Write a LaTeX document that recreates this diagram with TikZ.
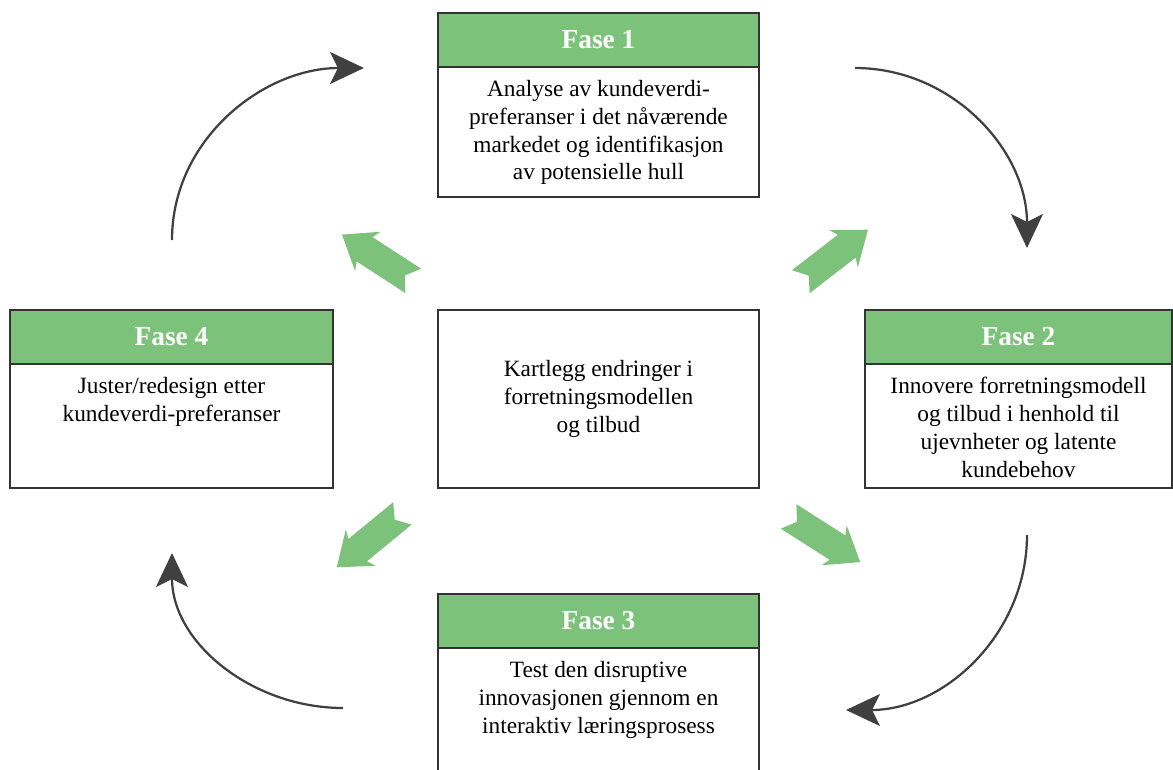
\documentclass[tikz,border=0pt]{standalone}
\usepackage{fontspec}
\setmainfont{Liberation Serif}
\usepackage{tikz}
\usetikzlibrary{arrows.meta, positioning}
\definecolor{fasegreen}{RGB}{124,194,122}
\definecolor{arrowgray}{RGB}{64,64,64}
\newcommand{\bodytext}[2]{\parbox[t][#1][t]{7.6cm}{\centering\vspace*{0.33cm}#2}}

\tikzset{
    boxframe/.style={draw=black!80, line width=1.2pt, fill=white, align=center, inner sep=0pt,
        outer sep=0pt, font=\fontsize{16.6}{19.8}\selectfont},
    phasehead/.style={boxframe, fill=fasegreen, text=white, minimum height=1.35cm,
        font=\bfseries\fontsize{19.5}{22}\selectfont},
    phasebody/.style={boxframe, anchor=north},
    cyclearrow/.style={arrowgray, line width=1.6pt, -{Stealth[length=0.85cm, width=0.8cm, inset=0.2cm]}},
    pics/chevron/.style={code={
        \fill[fasegreen, x=0.025cm, y=0.025cm] (-42,14.5) -- (16,14.5) -- (12,23.5) -- (43,0)
            -- (12,-23.5) -- (16,-14.5) -- (-42,-14.5) -- (-32,0) -- cycle;}}
}

\begin{document}
\begin{tikzpicture}[x=0.025cm, y=-0.025cm]
    \useasboundingbox (0,0) rectangle (1173,770);

    % Fase 1
    \node[phasehead, minimum width=8.025cm] (f1h) at (598.5,40) {Fase 1};
    \node[phasebody, minimum width=8.025cm, below=0pt of f1h] (f1)
        {\bodytext{3.25cm}{Analyse av kundeverdi-\\preferanser i det nåværende\\markedet og identifikasjon\\av potensielle hull}};

    % Fase 2
    \node[phasehead, minimum width=7.675cm] (f2h) at (1018.5,337) {Fase 2};
    \node[phasebody, minimum width=7.675cm, below=0pt of f2h] (f2)
        {\bodytext{3.1cm}{Innovere forretningsmodell\\og tilbud i henhold til\\ujevnheter og latente\\kundebehov}};

    % Fase 3
    \node[phasehead, minimum width=8.025cm] (f3h) at (598.5,621) {Fase 3};
    \node[phasebody, minimum width=8.025cm, below=0pt of f3h] (f3)
        {\bodytext{3.3cm}{Test den disruptive\\innovasjonen gjennom en\\interaktiv læringsprosess}};

    % Fase 4
    \node[phasehead, minimum width=8.075cm] (f4h) at (171.5,337) {Fase 4};
    \node[phasebody, minimum width=8.075cm, below=0pt of f4h] (f4)
        {\bodytext{3.1cm}{Juster/redesign etter\\kundeverdi-preferanser}};

    % Centre
    \node[boxframe, minimum width=8.025cm, minimum height=4.45cm] (kart) at (598.5,399)
        {Kartlegg endringer i\\forretningsmodellen\\og tilbud};

    % Cycle arrows
    \coordinate (c1s) at (172,240);  \coordinate (c1e) at (364,68);
    \coordinate (c2s) at (855,68);   \coordinate (c2e) at (1027,248);
    \coordinate (c3s) at (1027,535); \coordinate (c3e) at (846,710);
    \coordinate (c4s) at (343,708);  \coordinate (c4e) at (172,553);
    \draw[cyclearrow] (c1s) to[out=90, in=180] (c1e);
    \draw[cyclearrow] (c2s) to[out=0, in=90] (c2e);
    \draw[cyclearrow] (c3s) to[out=-90, in=0] (c3e);
    \draw[cyclearrow] (c4s) to[out=180, in=-90] (c4e);

    % Green arrows
    \pic[rotate=147] at (378,258) {chevron};
    \pic[rotate=37.7] at (834,256) {chevron};
    \pic[rotate=219.4] at (370,540) {chevron};
    \pic[rotate=-32.5] at (824,539) {chevron};
\end{tikzpicture}
\end{document}
